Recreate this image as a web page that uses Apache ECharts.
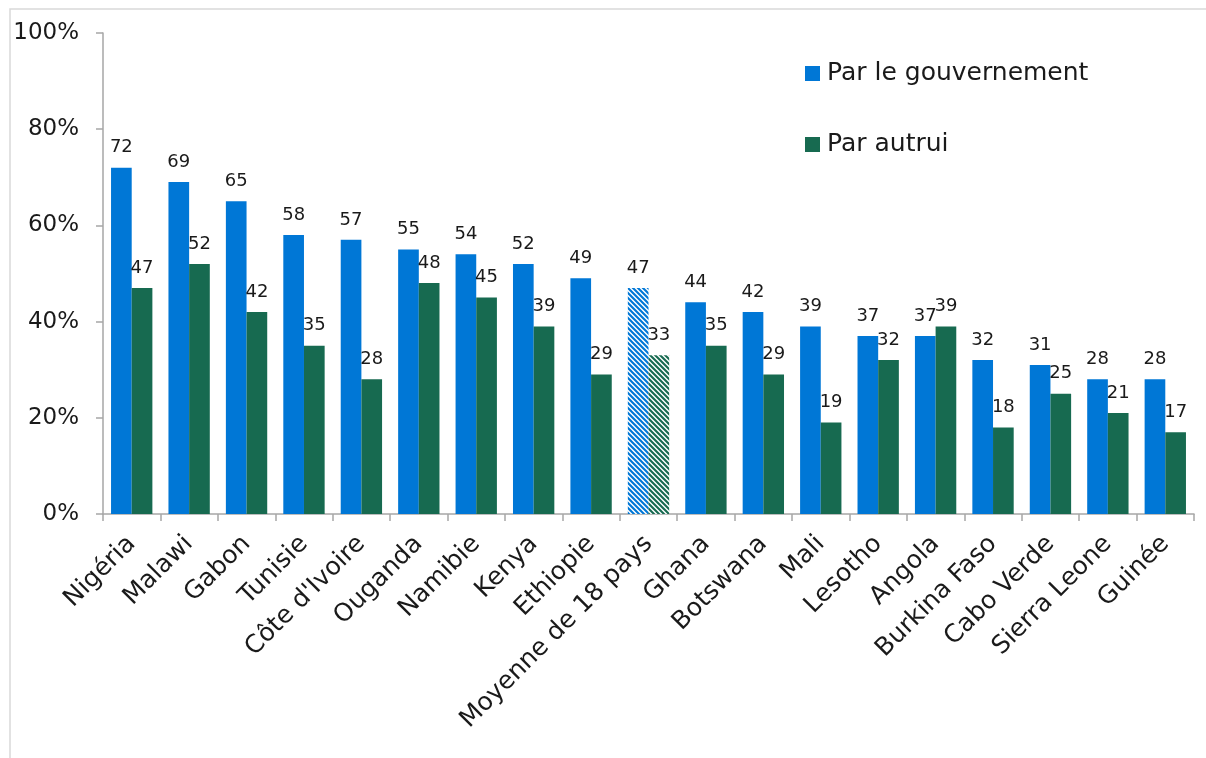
<!DOCTYPE html>
<html>
<head>
<meta charset="utf-8">
<script src="https://cdn.jsdelivr.net/npm/echarts@6/dist/echarts.min.js"></script>
<style>
  html, body { margin: 0; padding: 0; background: #ffffff; }
  #chart { width: 1206px; height: 758px; }
</style>
</head>
<body>
<div id="chart"></div>
<script>
// Categories (18 countries plus the average, highlighted with a hatched fill)
const categories = ['Nigéria', 'Malawi', 'Gabon', 'Tunisie', "Côte d'Ivoire", 'Ouganda', 'Namibie',
  'Kenya', 'Ethiopie', 'Moyenne de 18 pays', 'Ghana', 'Botswana', 'Mali', 'Lesotho', 'Angola',
  'Burkina Faso', 'Cabo Verde', 'Sierra Leone', 'Guinée'];

// Percentages per category
const parGouvernement = [72, 69, 65, 58, 57, 55, 54, 52, 49, 47, 44, 42, 39, 37, 37, 32, 31, 28, 28];
const parAutrui      = [47, 52, 42, 35, 28, 48, 45, 39, 29, 33, 35, 29, 19, 32, 39, 18, 25, 21, 17];

const seriesNames = ['Par le gouvernement', 'Par autrui'];
const averageLabel = 'Moyenne de 18 pays';
const yTicks = [0, 20, 40, 60, 80, 100];

const BLUE = '#0077D6';
const GREEN = '#176A50';
const FONT = 'DejaVu Sans';

// Diagonal-stripe tile used for the average bars
function stripePattern(color) {
  const size = 5;
  const c = document.createElement('canvas');
  c.width = size; c.height = size;
  const ctx = c.getContext('2d');
  ctx.fillStyle = '#ffffff';
  ctx.fillRect(0, 0, size, size);
  ctx.strokeStyle = color;
  ctx.lineWidth = 2.1;
  ctx.beginPath();
  for (let k = -1; k <= 1; k++) {
    ctx.moveTo(k * size - 1, -1);
    ctx.lineTo(k * size + size + 1, size + 1);
  }
  ctx.stroke();
  return { image: c, repeat: 'repeat' };
}

function buildData(values, color) {
  return values.map((v, i) => {
    if (categories[i] === averageLabel) {
      return { value: v, itemStyle: { color: stripePattern(color) } };
    }
    return v;
  });
}

const labelStyle = {
  show: true,
  position: 'top',
  distance: 11,
  color: '#1a1a1a',
  fontFamily: FONT,
  fontSize: 18
};

const chart = echarts.init(document.getElementById('chart'), null, { renderer: 'canvas' });

chart.setOption({
  animation: false,
  backgroundColor: '#ffffff',
  graphic: [{
    type: 'rect',
    shape: { x: 10, y: 9, width: 1300, height: 900 },
    style: { fill: 'none', stroke: '#d9d9d9', lineWidth: 1.5 },
    silent: true,
    z: -1
  }],
  legend: {
    orient: 'vertical',
    left: 805,
    top: 61,
    padding: 0,
    itemWidth: 15,
    itemHeight: 15,
    itemGap: 46,
    icon: 'rect',
    data: seriesNames,
    textStyle: { fontFamily: FONT, fontSize: 25, color: '#1a1a1a', lineHeight: 24, padding: [0, 0, 0, 2] }
  },
  grid: { left: 103, right: 12, top: 33, bottom: 244, containLabel: false },
  xAxis: {
    type: 'category',
    data: categories,
    boundaryGap: true,
    axisLine: { lineStyle: { color: '#a6a6a6', width: 1.5 } },
    axisTick: { show: true, length: 7, lineStyle: { color: '#a6a6a6', width: 1.5 } },
    axisLabel: {
      interval: 0,
      rotate: 45,
      margin: 26,
      color: '#1a1a1a',
      fontFamily: FONT,
      fontSize: 25
    }
  },
  yAxis: {
    type: 'value',
    min: yTicks[0],
    max: yTicks[yTicks.length - 1],
    interval: 20,
    splitLine: { show: false },
    axisLine: { show: true, lineStyle: { color: '#a6a6a6', width: 1.5 } },
    axisTick: { show: true, length: 7, lineStyle: { color: '#a6a6a6', width: 1.5 } },
    axisLabel: {
      margin: 24,
      color: '#1a1a1a',
      fontFamily: FONT,
      fontSize: 23,
      formatter: v => v + '%'
    }
  },
  series: [
    {
      name: seriesNames[0],
      type: 'bar',
      data: buildData(parGouvernement, BLUE),
      itemStyle: { color: BLUE },
      barGap: '0%',
      barCategoryGap: '28%',
      label: labelStyle
    },
    {
      name: seriesNames[1],
      type: 'bar',
      data: buildData(parAutrui, GREEN),
      itemStyle: { color: GREEN },
      barGap: '0%',
      barCategoryGap: '28%',
      label: labelStyle
    }
  ]
});
</script>
</body>
</html>
